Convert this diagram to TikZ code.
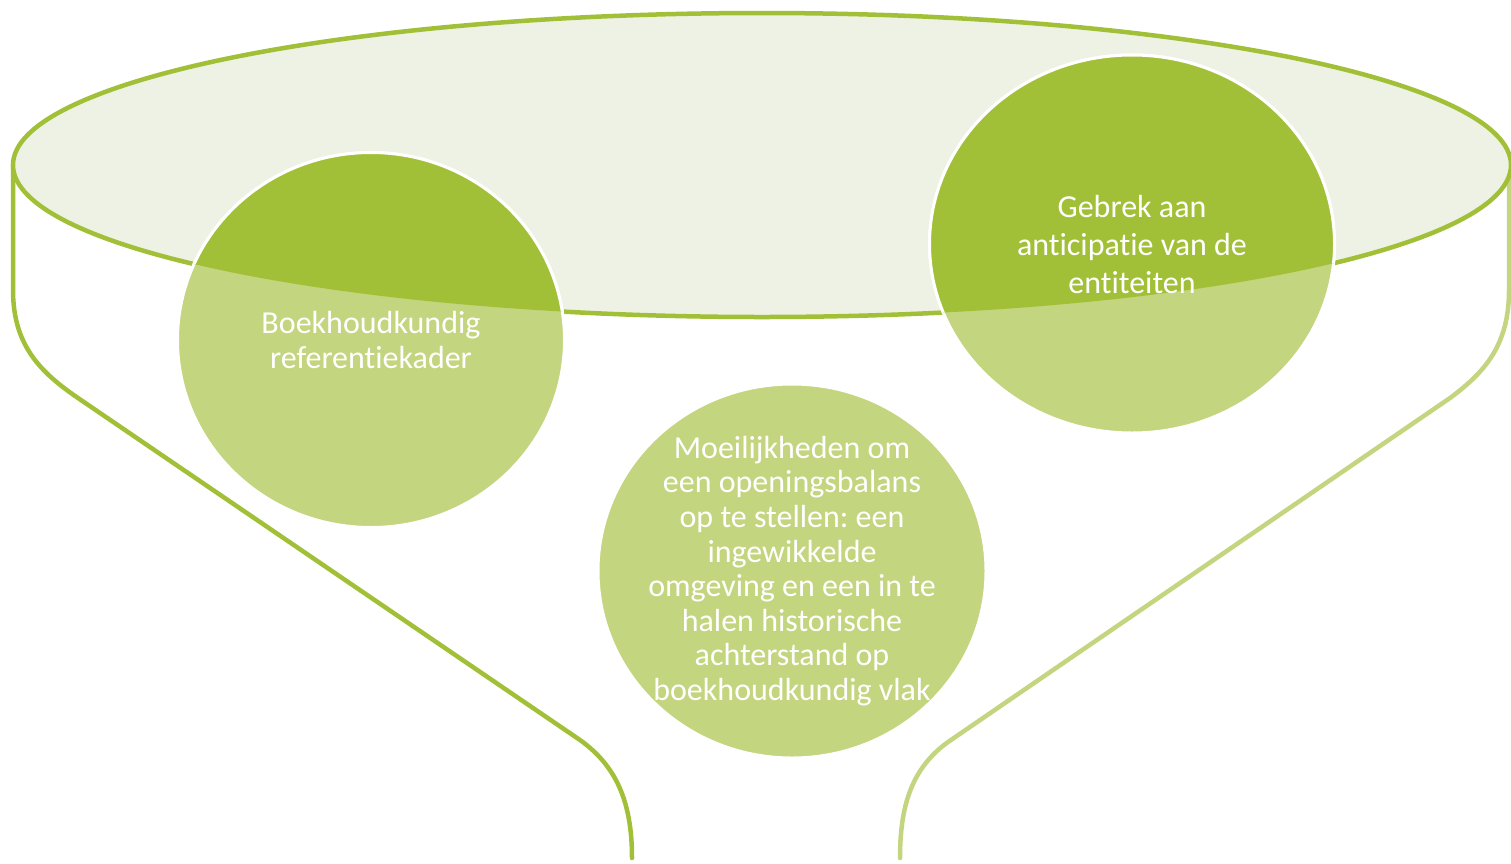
\documentclass[tikz,border=0pt]{standalone}
\usepackage{fontspec}
\setmainfont{Carlito}[Ligatures=NoCommon]
\usepackage{tikz}
\usetikzlibrary{shapes.geometric}
\definecolor{leafdark}{HTML}{A2C037}
\definecolor{leaflight}{HTML}{C3D57F}
\definecolor{rimfill}{HTML}{EEF2E4}
\frenchspacing
\tikzset{
  % funnel outline
  funnel side/.style={line width=4.5pt, line cap=round},
  % round bubbles with a white rim
  bubble/.style={ellipse, fill=leaflight, draw=white, line width=3pt, inner sep=0pt},
  % white text inside the bubbles
  bubble text/.style={text=white, align=center, font=\fontsize{32}{34.6}\selectfont},
}

\begin{document}
\begin{tikzpicture}[x=1pt, y=-1pt]
\useasboundingbox (0,0) rectangle (1511,863);

% Funnel sides
\draw[funnel side, leafdark] (13,165) -- (13,290) .. controls (13,345) and (40,372) .. (78,398)
  -- (580,740) .. controls (615,765) and (632,800) .. (632,858);
\draw[funnel side, leaflight] (1509,165) -- (1509,290) .. controls (1509,345) and (1485,372) .. (1450,398)
  -- (948,742) .. controls (912,768) and (900,805) .. (900,858);

% Funnel rim
\filldraw[fill=rimfill, draw=leafdark, line width=4.5pt] (762,165) ellipse [x radius=749, y radius=152];

% Bubbles
\node[bubble, minimum width=387pt, minimum height=375pt] (kader) at (371,340) {};
\node[bubble, minimum width=405pt, minimum height=378pt] (gebrek) at (1132,244) {};
\node[bubble, minimum width=388pt, minimum height=374pt] (balans) at (792,571) {};

% darker part of the bubbles inside the rim
\begin{scope}
  \clip (762,165) ellipse [x radius=749, y radius=152];
  \filldraw[fill=leafdark, draw=white, line width=3pt] (kader.center) ellipse [x radius=193.5, y radius=187.5];
  \filldraw[fill=leafdark, draw=white, line width=3pt] (gebrek.center) ellipse [x radius=202.5, y radius=189];
\end{scope}

% Labels
\node[bubble text] (kadertext) at (kader.center) {Boekhoudkundig\\referentiekader};
\node[bubble text, font=\fontsize{32}{38}\selectfont] (gebrektext) at (gebrek.center) {Gebrek aan\\anticipatie van de\\entiteiten};
\node[bubble text] (balanstext) at (balans.center) {Moeilijkheden om\\een openingsbalans\\op te stellen: een\\ingewikkelde\\omgeving en een in te\\halen historische\\achterstand op\\boekhoudkundig vlak};

\end{tikzpicture}
\end{document}
